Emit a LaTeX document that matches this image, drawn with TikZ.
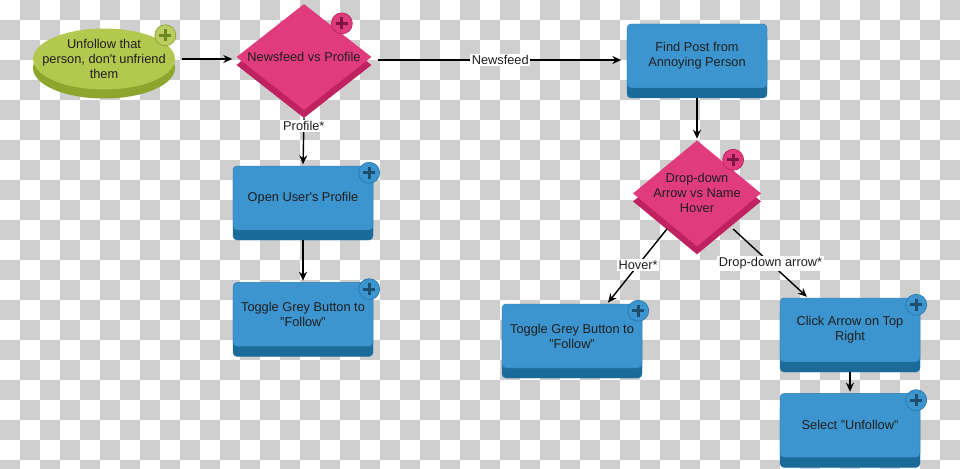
\documentclass[tikz,border=0pt]{standalone}
\usepackage{fontspec}
\setmainfont{Liberation Sans}
\usepackage{xcolor}
\definecolor{cBlue}{HTML}{3D95CF}
\definecolor{cBlueDark}{HTML}{1A6A9A}
\definecolor{cBlueEdge}{HTML}{2A78AD}
\definecolor{cBlueMark}{HTML}{1C4E70}
\definecolor{cPink}{HTML}{E03C7D}
\definecolor{cPinkDark}{HTML}{BF225F}
\definecolor{cPinkMark}{HTML}{7E1441}
\definecolor{cGreen}{HTML}{B3C84E}
\definecolor{cGreenDark}{HTML}{8EA52D}
\definecolor{cGreenMark}{HTML}{6C8A1D}
\definecolor{cText}{HTML}{1E1E1E}
\definecolor{cCheck}{HTML}{CFCFCF}
\usepackage{tikz}
\usetikzlibrary{positioning,arrows.meta,shapes.geometric,shadows}
\tikzset{
  node-box/.style={rectangle,rounded corners=4pt,draw=cBlueEdge,fill=cBlue,
    minimum width=140pt,minimum height=64pt,align=center,text=cText,
    drop shadow={shadow xshift=0pt,shadow yshift=-10pt,fill=cBlueDark,
      draw=cBlueEdge,opacity=1}},
  node-choice/.style={diamond,aspect=1.2,fill=cPink,inner sep=-3pt,
    align=center,text=cText,
    drop shadow={shadow xshift=0pt,shadow yshift=-8pt,fill=cPinkDark,opacity=1}},
  node-goal/.style={ellipse,fill=cGreen,inner xsep=-14pt,inner ysep=-2pt,
    minimum width=142pt,minimum height=61pt,align=center,text=cText,
    drop shadow={shadow xshift=0pt,shadow yshift=-9pt,fill=cGreenDark,opacity=1}},
  % the small "+" badges on the shapes
  plus-mark/.style={circle,minimum size=21pt,inner sep=0pt,line width=0.7pt,
    path picture={\draw[line width=3pt,#1]
      ([xshift=-6pt]path picture bounding box.center) --
      ([xshift=6pt]path picture bounding box.center)
      ([yshift=-6pt]path picture bounding box.center) --
      ([yshift=6pt]path picture bounding box.center);}},
  plus-blue/.style={plus-mark=cBlueMark,fill=cBlue,draw=cBlueEdge},
  plus-pink/.style={plus-mark=cPinkMark,fill=cPink,draw=cPinkDark},
  plus-green/.style={plus-mark=cGreenMark,fill=cGreen!90!white,draw=cGreenDark},
  arrow/.style={-{Stealth[length=9pt,width=8pt,inset=3pt]},line width=1.4pt,
    draw=black,shorten >=1.5pt},
  edge-label/.style={fill=white,inner sep=1.5pt,text=cText},
}

\begin{document}
\begin{tikzpicture}[x=1pt,y=-1pt,font=\fontsize{12.8}{15}\selectfont]
  \useasboundingbox (0,0) rectangle (960,468);
  % checkerboard background of the source image
  \foreach \i in {0,...,47}{
    \foreach \j in {0,...,23}{
      \ifodd\numexpr\i+\j\relax
        \fill[cCheck] (20*\i,20*\j) rectangle ++(20,20);
      \fi
    }
  }

  \node[node-goal] (goal) at (104,59)
    {Unfollow that\\person, don\textquotesingle{}t unfriend\\them};
  \node[node-choice,minimum width=135pt,minimum height=106pt] (news) at (304,57)
    {Newsfeed vs Profile};
  \node[node-box] (find) at (697,56) {Find Post from\\Annoying Person};
  \node[node-choice,minimum width=128pt,minimum height=106pt,below=52pt of find]
    (drop) {Drop-down\\Arrow vs Name\\Hover};
  \node[node-box] (prof) at (303,198) {Open User\textquotesingle{}s Profile};
  \node[node-box,below=52pt of prof] (flw1) {Toggle Grey Button to\\"Follow"};
  \node[node-box] (flw2) at (572,336) {Toggle Grey Button to\\"Follow"};
  \node[node-box] (click) at (850,330) {Click Arrow on Top\\Right};
  \node[node-box,below=31pt of click] (unf) {Select "Unfollow"};

  \node[plus-green] (p-goal) at ([xshift=11pt,yshift=2pt]goal.north east) {};
  \foreach \n in {news,drop}
    \node[plus-pink] (p-\n) at ([xshift=4pt,yshift=7pt]\n.north east) {};
  \foreach \n in {prof,flw1,flw2,click,unf}
    \node[plus-blue] (p-\n) at ([xshift=-4pt,yshift=-7pt]\n.north east) {};

  \draw[arrow,shorten <=7pt,shorten >=4pt] (goal.east) -- (goal.east -| news.west);
  \draw[arrow] ([xshift=6pt,yshift=-3pt]news.east)
    -- ([xshift=-4pt,yshift=-3pt]news.east -| find.west)
    node[edge-label,pos=.5] (l-news) {Newsfeed};
  \draw[arrow] ([yshift=-8pt]news.south) -- (prof.north)
    node[edge-label,pos=.17] (l-prof) {Profile*};
  \draw[arrow] ([yshift=-10pt]prof.south) -- (flw1.north);
  \draw[arrow] ([yshift=-10pt]find.south) -- (drop.north);
  \draw[arrow] ([xshift=2pt,yshift=-9pt]drop.south west) -- ([xshift=35pt]flw2.north)
    node[edge-label,pos=.48] (l-hover) {Hover*};
  \draw[arrow] ([xshift=4pt,yshift=-9pt]drop.south east) -- ([xshift=-42pt]click.north)
    node[edge-label,pos=.5] (l-arrow) {Drop-down arrow*};
  \draw[arrow] ([yshift=-10pt]click.south) -- (unf.north);
\end{tikzpicture}
\end{document}
